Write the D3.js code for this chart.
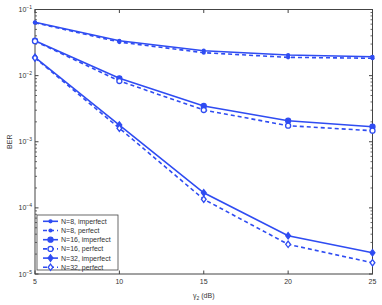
<!DOCTYPE html>
<html>
<head>
<meta charset="utf-8">
<script src="https://cdn.jsdelivr.net/npm/d3@7"></script>
<style>
  body { margin: 0; background: #fff; }
  svg { display: block; font-family: "Liberation Sans", Arial, sans-serif; }
</style>
</head>
<body>
<div id="chart"></div>
<script>
var snr = [5, 10, 15, 20, 25];
var n8Imperfect = [0.064, 0.0337, 0.0238, 0.0205, 0.0193];
var n8Perfect = [0.063, 0.0322, 0.0222, 0.0189, 0.0183];
var n16Imperfect = [0.0337, 0.0091, 0.00347, 0.00208, 0.00169];
var n16Perfect = [0.0332, 0.0083, 0.00302, 0.00175, 0.00147];
var n32Imperfect = [0.0189, 0.00179, 0.000169, 0.0000379, 0.0000209];
var n32Perfect = [0.0185, 0.0016, 0.000135, 0.0000281, 0.0000148];
var xTicks = [5, 10, 15, 20, 25];
var yTicks = [1e-5, 1e-4, 1e-3, 1e-2, 1e-1];

var series = [
  {name: "N=8, imperfect", values: n8Imperfect, dash: null, marker: "dot"},
  {name: "N=8, perfect", values: n8Perfect, dash: "4,3", marker: "dot"},
  {name: "N=16, imperfect", values: n16Imperfect, dash: null, marker: "circleFill"},
  {name: "N=16, perfect", values: n16Perfect, dash: "4,3", marker: "circleOpen"},
  {name: "N=32, imperfect", values: n32Imperfect, dash: null, marker: "diamondFill"},
  {name: "N=32, perfect", values: n32Perfect, dash: "4,3", marker: "diamondOpen"}
];

var svgWidth = 382;
var svgHeight = 305;
var margin = {top: 9.5, right: 9.5, bottom: 31, left: 35};
var width = svgWidth - margin.left - margin.right;
var height = svgHeight - margin.top - margin.bottom;
var blue = "#2f4cf2";
var axisColor = "#444";

var svg = d3.select("#chart").append("svg")
  .attr("width", svgWidth)
  .attr("height", svgHeight);

var g = svg.append("g")
  .attr("transform", `translate(${margin.left}, ${margin.top})`);

var x = d3.scaleLinear().domain([5, 25]).range([0, width]);
var y = d3.scaleLog().domain([1e-5, 1e-1]).range([height, 0]);

// box
g.append("rect")
  .attr("width", width).attr("height", height)
  .attr("fill", "none").attr("stroke", axisColor).attr("stroke-width", 1);

// x ticks (bottom + top, inward)
xTicks.forEach(function(t) {
  g.append("line").attr("x1", x(t)).attr("x2", x(t)).attr("y1", height).attr("y2", height - 3.5)
    .attr("stroke", axisColor);
  g.append("line").attr("x1", x(t)).attr("x2", x(t)).attr("y1", 0).attr("y2", 3.5)
    .attr("stroke", axisColor);
  g.append("text").attr("x", x(t)).attr("y", height + 10)
    .attr("text-anchor", "middle").attr("font-size", "7px").attr("fill", "#333")
    .text(t);
});

// y ticks major and minor (left + right, inward)
var minor = [];
for (var e = -5; e < -1; e++) {
  for (var m = 2; m <= 9; m++) minor.push(m * Math.pow(10, e));
}
yTicks.forEach(function(t) {
  g.append("line").attr("x1", 0).attr("x2", 3.5).attr("y1", y(t)).attr("y2", y(t)).attr("stroke", axisColor);
  g.append("line").attr("x1", width).attr("x2", width - 3.5).attr("y1", y(t)).attr("y2", y(t)).attr("stroke", axisColor);
  var lbl = g.append("text").attr("x", -3).attr("y", y(t) + 2.5)
    .attr("text-anchor", "end").attr("font-size", "7px").attr("fill", "#333");
  lbl.append("tspan").text("10");
  lbl.append("tspan").attr("dy", -3).attr("font-size", "5px").text("\u2212" + Math.round(-Math.log10(t)));
});
minor.forEach(function(t) {
  g.append("line").attr("x1", 0).attr("x2", 2).attr("y1", y(t)).attr("y2", y(t)).attr("stroke", axisColor).attr("stroke-width", 0.8);
  g.append("line").attr("x1", width).attr("x2", width - 2).attr("y1", y(t)).attr("y2", y(t)).attr("stroke", axisColor).attr("stroke-width", 0.8);
});

// axis labels
svg.append("text")
  .attr("transform", `translate(12, ${margin.top + height / 2}) rotate(-90)`)
  .attr("text-anchor", "middle").attr("font-size", "7px").attr("fill", "#333")
  .text("BER");

var xl = svg.append("text")
  .attr("x", margin.left + width / 2).attr("y", 298)
  .attr("text-anchor", "middle").attr("font-size", "7px").attr("fill", "#333");
xl.append("tspan").text("\u03b3");
xl.append("tspan").attr("dy", 2).attr("font-size", "5px").text("2");
xl.append("tspan").attr("dy", -2).text(" (dB)");

function drawMarker(sel, type, cx, cy) {
  if (type === "dot") {
    sel.append("circle").attr("cx", cx).attr("cy", cy).attr("r", 2.1).attr("fill", blue);
  } else if (type === "circleFill" || type === "circleOpen") {
    sel.append("circle").attr("cx", cx).attr("cy", cy).attr("r", 2.5)
      .attr("fill", type === "circleFill" ? blue : "#fff").attr("stroke", blue).attr("stroke-width", 1.3);
  } else {
    var s = 3.2;
    sel.append("path")
      .attr("d", `M${cx},${cy - s}L${cx + s * 0.75},${cy}L${cx},${cy + s}L${cx - s * 0.75},${cy}Z`)
      .attr("fill", type === "diamondFill" ? blue : "#fff").attr("stroke", blue).attr("stroke-width", 1.3);
  }
}

var line = d3.line().x(d => x(d[0])).y(d => y(d[1]));

series.forEach(function(s) {
  var pts = snr.map((v, i) => [v, s.values[i]]);
  g.append("path")
    .attr("d", line(pts))
    .attr("fill", "none").attr("stroke", blue).attr("stroke-width", 1.6)
    .attr("stroke-dasharray", s.dash);
  var mg = g.append("g");
  pts.forEach(function(p) { drawMarker(mg, s.marker, x(p[0]), y(p[1])); });
});

// legend
var lg = svg.append("g").attr("transform", "translate(37, 215)");
lg.append("rect").attr("width", 81).attr("height", 55)
  .attr("fill", "#fff").attr("stroke", axisColor).attr("stroke-width", 0.8);
series.forEach(function(s, i) {
  var ly = 6.3 + i * 9.2;
  lg.append("line").attr("x1", 6).attr("x2", 21).attr("y1", ly).attr("y2", ly)
    .attr("stroke", blue).attr("stroke-width", 1.6).attr("stroke-dasharray", s.dash);
  drawMarker(lg, s.marker, 13.5, ly);
  lg.append("text").attr("x", 24).attr("y", ly + 2.5)
    .attr("font-size", "7px").attr("fill", "#333").text(s.name);
});
</script>
</body>
</html>
